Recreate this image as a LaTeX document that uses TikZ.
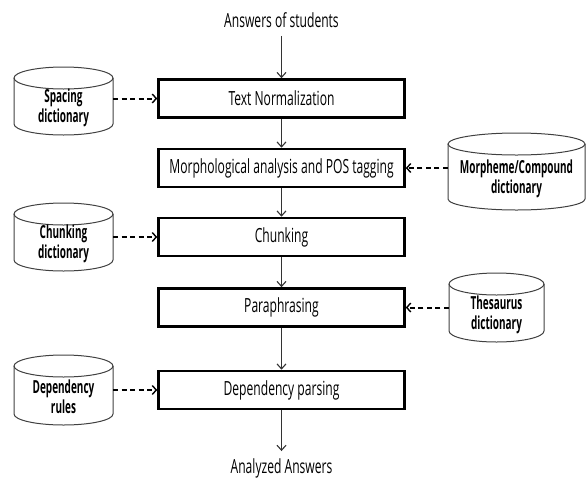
\documentclass[tikz,border=0pt]{standalone}
\usepackage{fontspec}
\setmainfont{Open Sans}[FakeStretch=0.62]
\newfontfamily\dbfont{Open Sans}[FakeStretch=0.555]
\usetikzlibrary{arrows.meta}
\tikzset{
  procbox/.style={draw, line width=2.6pt, minimum width=246pt, minimum height=38pt, inner sep=0pt, font=\fontsize{19.5}{22}\selectfont},
  plain/.style={inner sep=0pt, font=\fontsize{19.5}{22}\selectfont},
  flow/.style={line width=1.1pt, draw=black!80, -{Straight Barb[length=5pt,width=9pt,line width=1.1pt]}},
  dbflow/.style={line width=2pt, dash pattern=on 5pt off 3.5pt, -{Straight Barb[length=4pt,width=9pt,line width=1.4pt]}},
  cyl/.style={line width=1pt, draw=black!75},
  dbtext/.style={align=center, font=\dbfont\bfseries\fontsize{18}{20}\selectfont, inner sep=0pt},
  anchorbox/.style={inner sep=0pt, minimum width=#1, minimum height=20pt}
}
% #1 name, #2 cx, #3 top, #4 bottom, #5 width, #6 text
\newcommand\dbcylinder[6]{%
  \pgfmathsetmacro\rx{#5/2}%
  \pgfmathsetmacro\ry{11}%
  \draw[cyl] ({#2-\rx},{#3+\ry}) -- ({#2-\rx},{#4-\ry}) arc[start angle=180,end angle=0,x radius=\rx,y radius=\ry] -- ({#2+\rx},{#3+\ry});
  \draw[cyl] (#2,{#3+\ry}) ellipse[x radius=\rx,y radius=\ry];
  \node[anchorbox=#5pt] (#1) at (#2,{(#3+#4)/2}) {};
  \node[dbtext] (#1t) at (#2,{(#3+#4)/2+7}) {#6};
}
\begin{document}
\begin{tikzpicture}[x=1pt,y=-1pt]
\useasboundingbox (0,0) rectangle (586,480);
\node[plain] (ans) at (281.5,20) {Answers of students};
\node[procbox] (tn) at (281.5,98.5) {Text Normalization};
\node[procbox] (mo) at (281.5,168) {Morphological analysis and POS tagging};
\node[procbox] (ch) at (281.5,237) {Chunking};
\node[procbox] (pa) at (281.5,307.5) {Paraphrasing};
\node[procbox] (dp) at (281.5,390) {Dependency parsing};
\node[plain] (out) at (281.5,468) {Analyzed Answers};

\dbcylinder{sp}{63.5}{67}{135}{99}{Spacing\\dictionary}
\dbcylinder{md}{516.5}{133}{210}{137}{Morpheme/Compound\\dictionary}
\dbcylinder{cd}{63.5}{203}{271}{99}{Chunking\\dictionary}
\dbcylinder{th}{496.5}{273}{342}{95}{Thesaurus\\dictionary}
\dbcylinder{dr}{63.5}{355}{425}{99}{Dependency\\rules}

\draw[flow, shorten <=8pt] (ans) -- (tn);
\draw[flow] (tn) -- (mo);
\draw[flow] (mo) -- (ch);
\draw[flow] (ch) -- (pa);
\draw[flow] (pa) -- (dp);
\draw[flow, shorten >=7pt] (dp) -- (out);

\draw[dbflow] (sp.east |- tn.west) -- (tn.west);
\draw[dbflow] (md.west |- mo.east) -- (mo.east);
\draw[dbflow] (cd.east |- ch.west) -- (ch.west);
\draw[dbflow] (th.west |- pa.east) -- (pa.east);
\draw[dbflow] (dr.east |- dp.west) -- (dp.west);
\end{tikzpicture}
\end{document}
